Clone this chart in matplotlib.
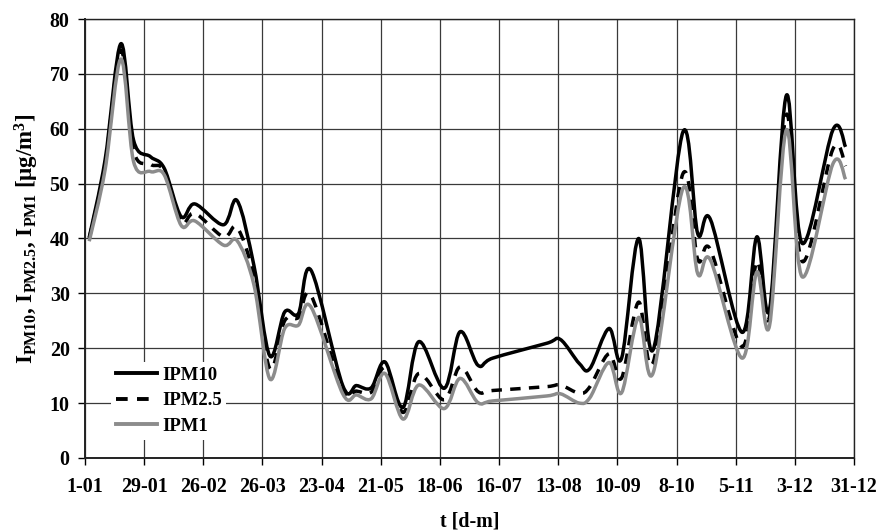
import numpy as np
import matplotlib
matplotlib.use('Agg')
import matplotlib.pyplot as plt
from matplotlib.path import Path
from matplotlib.patches import PathPatch
from matplotlib.lines import Line2D

plt.rcParams['font.family'] = ['Liberation Serif', 'DejaVu Serif']
plt.rcParams['font.weight'] = 'bold'
plt.rcParams['mathtext.fontset'] = 'custom'
plt.rcParams['mathtext.rm'] = 'Liberation Serif:bold'
plt.rcParams['mathtext.it'] = 'Liberation Serif:bold'
plt.rcParams['mathtext.bf'] = 'Liberation Serif:bold'

# Data (day of year, concentration in ug/m3)
days = [2, 9.5, 17, 23, 31, 37.5, 45.5, 52, 65.5, 72, 80, 87.5, 94.5, 101, 107,
        122, 128.5, 135.5, 142, 150.5, 158, 170, 177.5, 186, 193, 218.5, 225,
        234, 239, 248, 254, 262, 269, 283, 290, 296, 311, 318, 324, 332, 339.5,
        354, 360]
ipm10 = [40.2, 54.3, 75.5, 57.9, 54.9, 52.8, 44.0, 46.3, 42.5, 46.9, 35.0, 18.6,
         26.6, 26.3, 34.2, 13.2, 13.2, 12.8, 17.5, 9.2, 21.2, 12.7, 23.0, 16.9,
         18.2, 20.9, 21.6, 17.2, 16.3, 23.6, 18.2, 40.0, 19.8, 59.4, 40.9, 43.5,
         22.9, 40.3, 27.1, 66.1, 39.1, 59.8, 56.7]
ipm25 = [40.0, 53.5, 74.3, 56.0, 53.5, 52.3, 43.0, 44.6, 40.3, 42.0, 33.0, 16.3,
         25.0, 25.6, 29.6, 12.4, 12.2, 12.0, 16.4, 8.3, 15.4, 10.6, 16.6, 12.1,
         12.3, 13.0, 13.3, 11.8, 13.0, 19.0, 14.6, 28.4, 17.5, 51.8, 36.2, 38.0,
         20.3, 35.8, 25.8, 62.6, 35.8, 56.3, 53.2]
ipm1 = [39.5, 52.5, 72.7, 54.0, 52.2, 51.6, 42.4, 43.2, 38.8, 39.6, 31.5, 14.4,
        23.6, 24.2, 27.5, 11.7, 11.5, 10.8, 15.4, 7.1, 13.3, 9.0, 14.5, 10.1,
        10.4, 11.3, 11.7, 10.0, 11.0, 17.4, 11.9, 25.6, 15.6, 49.1, 33.6, 36.1,
        18.2, 33.9, 24.1, 59.8, 33.0, 53.6, 50.8]

tick_days = np.arange(0, 365, 28)
tick_labels = ['1-01', '29-01', '26-02', '26-03', '23-04', '21-05', '18-06',
               '16-07', '13-08', '10-09', '8-10', '5-11', '3-12', '31-12']


def smooth_path(x, y):
    # smoothed line like the spreadsheet one: Catmull-Rom segments as Bezier curves
    pts = np.column_stack([x, y]).astype(float)
    ext = np.vstack([pts[0], pts, pts[-1]])
    verts = [pts[0]]
    codes = [Path.MOVETO]
    for i in range(len(pts) - 1):
        p0, p1, p2, p3 = ext[i], ext[i + 1], ext[i + 2], ext[i + 3]
        verts += [p1 + (p2 - p0) / 6, p2 - (p3 - p1) / 6, p2]
        codes += [Path.CURVE4] * 3
    return Path(verts, codes)


fig = plt.figure(figsize=(8.78, 5.31), dpi=100)
ax = fig.add_axes([0.0968, 0.1375, 0.8759, 0.8267])

styles = [
    ('IPM10', ipm10, 'black', '-'),
    ('IPM2.5', ipm25, 'black', (0, (3.0, 2.4))),
    ('IPM1', ipm1, '#8c8c8c', '-'),
]
handles = []
for name, vals, col, ls in styles:
    patch = PathPatch(smooth_path(days, vals), fill=False, edgecolor=col,
                      lw=2.5, linestyle=ls, capstyle='butt', joinstyle='round', zorder=3)
    ax.add_patch(patch)
    handles.append(Line2D([], [], color=col, lw=2.8, linestyle=ls, label=name))

ax.set_xlim(0, 364)
ax.set_ylim(0, 80)
ax.set_xticks(tick_days)
ax.set_xticklabels(tick_labels)
ax.set_yticks(np.arange(0, 81, 10))
ax.grid(True, color='#3a3a3a', lw=0.9)
ax.set_axisbelow(True)
for s in ax.spines.values():
    s.set_color('#222222')
    s.set_linewidth(1.0)
ax.spines['left'].set_linewidth(1.4)
ax.spines['bottom'].set_linewidth(1.4)
ax.tick_params(axis='both', direction='out', length=5, width=1, labelsize=14.4)
ax.tick_params(axis='x', pad=9)
ax.tick_params(axis='y', pad=6)

ax.set_xlabel('t [d-m]', fontsize=14.4, fontweight='bold', labelpad=10)
ax.set_ylabel(r'I$_{\mathrm{PM10}}$, I$_{\mathrm{PM2.5}}$, I$_{\mathrm{PM1}}$ [μg/m$^{3}$]',
              fontsize=16.5, fontweight='bold', labelpad=6)

leg = ax.legend(handles=handles, loc='upper left', bbox_to_anchor=(0.022, 0.24),
                fontsize=13.5, frameon=True, facecolor='white', edgecolor='none',
                framealpha=1, fancybox=False, handlelength=2.2, handletextpad=0.25,
                labelspacing=0.45, borderpad=0.25)
leg.set_zorder(5)

fig.savefig('out.png', dpi=100)
